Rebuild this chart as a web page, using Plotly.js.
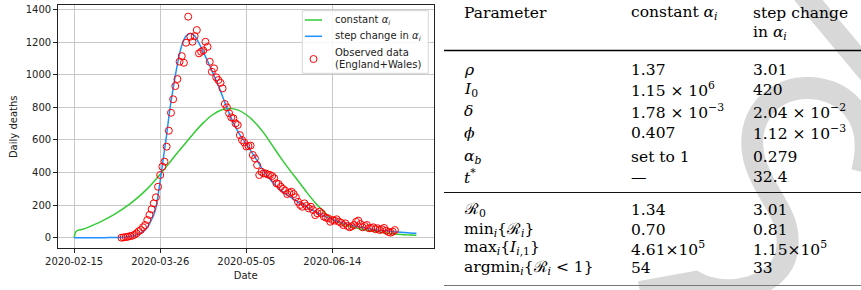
<!DOCTYPE html>
<html>
<head>
<meta charset="utf-8">
<script src="https://cdn.plot.ly/plotly-3.0.1.min.js"></script>
<style>html,body{margin:0;padding:0;background:#fff;overflow:hidden;width:861px;height:290px;}#chart{width:861px;height:290px;}</style>
</head>
<body>
<div id="chart"></div>
<script>
// ---------------- data ----------------
const greenDates = ['2020-02-15','2020-02-16','2020-02-19','2020-02-23','2020-02-27','2020-03-02','2020-03-06','2020-03-10','2020-03-14','2020-03-18','2020-03-22','2020-03-26','2020-03-30','2020-04-03','2020-04-07','2020-04-11','2020-04-15','2020-04-19','2020-04-23','2020-04-27','2020-05-01','2020-05-05','2020-05-09','2020-05-13','2020-05-17','2020-05-21','2020-05-25','2020-05-29','2020-06-02','2020-06-06','2020-06-10','2020-06-14','2020-06-18','2020-06-22','2020-06-26','2020-06-30','2020-07-04','2020-07-08','2020-07-12','2020-07-16','2020-07-20','2020-07-23'];
const greenValues = [0,40,52,73,96,123,154,189,229,275,328,390,455,522,585,648,705,752,783,794,785,755,708,645,568,490,418,350,280,215,160,112,88,70,57,46,38,31,25,20,17,15];

const blueDates = ['2020-02-15','2020-02-19','2020-02-23','2020-02-27','2020-03-02','2020-03-06','2020-03-10','2020-03-12','2020-03-14','2020-03-16','2020-03-18','2020-03-20','2020-03-22','2020-03-23','2020-03-24','2020-03-25','2020-03-26','2020-03-27','2020-03-28','2020-03-29','2020-03-30','2020-03-31','2020-04-01','2020-04-02','2020-04-03','2020-04-04','2020-04-05','2020-04-06','2020-04-07','2020-04-08','2020-04-09','2020-04-10','2020-04-11','2020-04-13','2020-04-15','2020-04-17','2020-04-19','2020-04-21','2020-04-23','2020-04-25','2020-04-27','2020-04-29','2020-05-01','2020-05-03','2020-05-05','2020-05-07','2020-05-09','2020-05-11','2020-05-13','2020-05-15','2020-05-17','2020-05-21','2020-05-25','2020-05-29','2020-06-02','2020-06-06','2020-06-10','2020-06-14','2020-06-18','2020-06-22','2020-06-26','2020-06-30','2020-07-04','2020-07-08','2020-07-12','2020-07-16','2020-07-20','2020-07-23'];
const blueValues = [0,0,0,0,1,2,5,8,13,22,37,62,112,140,185,262,350,445,540,635,740,835,915,995,1065,1130,1180,1215,1238,1250,1254,1250,1240,1195,1140,1085,1025,965,900,830,765,705,655,612,575,535,495,452,412,375,342,292,254,218,188,160,134,112,94,79,67,57,49,42,37,33,29,27];

const observedStart = '2020-03-08'; // daily observations
const observedValues = [0,2,4,6,10,12,18,27,40,47,64,78,109,140,175,211,248,313,385,436,467,559,657,767,850,931,974,1081,1115,1074,1197,1357,1234,1203,1238,1275,1132,1142,1150,1203,1172,1080,1019,1040,985,968,951,917,821,800,764,739,733,702,692,630,600,585,560,563,566,508,487,446,385,405,395,395,388,385,379,365,334,330,313,300,290,268,276,282,268,248,221,201,190,211,195,180,190,170,139,150,160,150,130,123,119,98,109,105,113,98,92,78,88,72,64,70,78,98,105,84,64,72,78,58,60,64,52,58,47,52,60,43,35,31,37,47];

const xTickValues = ['2020-02-15','2020-03-26','2020-05-05','2020-06-14'];
const yTickValues = [0,200,400,600,800,1000,1200,1400];

const legendLabels = ['constant <i>α<sub>i</sub></i>','step change in <i>α<sub>i</sub></i>','Observed data','(England+Wales)'];

const tableHeader = ['Parameter','constant <i>α<sub>i</sub></i>','step change','in <i>α<sub>i</sub></i>'];
const tableParams = ['<i>ρ</i>','<i>I</i><sub>0</sub>','<i>δ</i>','<i>ϕ</i>','<i>α<sub>b</sub></i>','<i>t</i><sup>*</sup>'];
const tableConst = ['1.37','1.15 × 10<sup>6</sup>','1.78 × 10<sup>−3</sup>','0.407','set to 1','—'];
const tableStep = ['3.01','420','2.04 × 10<sup>−2</sup>','1.12 × 10<sup>−3</sup>','0.279','32.4'];
const tableDerived = ['ℛ<sub>0</sub>','min<sub><i>i</i></sub>{ℛ<sub><i>i</i></sub>}','max<sub><i>i</i></sub>{<i>I</i><sub><i>i</i>,1</sub>}','argmin<sub><i>i</i></sub>{ℛ<sub><i>i</i></sub> &lt; 1}'];
const derivedConst = ['1.34','0.70','4.61×10<sup>5</sup>','54'];
const derivedStep = ['3.01','0.81','1.15×10<sup>5</sup>','33'];

// ---------------- helpers ----------------
const W = 861, H = 290;
const px = x => x / W;
const py = y => 1 - y / H;
function addDays(d, n) {
  const t = new Date(d + 'T00:00:00Z');
  t.setUTCDate(t.getUTCDate() + n);
  return t.toISOString().slice(0, 10);
}
const observedDates = observedValues.map((_, i) => addDays(observedStart, i));

const traces = [
  {x: greenDates, y: greenValues, type: 'scatter', mode: 'lines', name: 'constant',
   line: {color: '#32cd32', width: 1.5, shape: 'spline', smoothing: 0.8}, showlegend: false, hoverinfo: 'skip'},
  {x: blueDates, y: blueValues, type: 'scatter', mode: 'lines', name: 'step',
   line: {color: '#1e90ff', width: 1.5, shape: 'spline', smoothing: 0.8}, showlegend: false, hoverinfo: 'skip'},
  {x: observedDates, y: observedValues, type: 'scatter', mode: 'markers', name: 'observed',
   marker: {symbol: 'circle-open', size: 7, color: '#ff0000', line: {width: 1, color: '#ff0000'}}, showlegend: false, hoverinfo: 'skip'}
];

const tickFont = {family: 'DejaVu Sans, sans-serif', size: 10, color: '#222'};
const serif = {family: 'DejaVu Serif, serif', size: 15.5, color: '#000'};

const shapes = [];
const annotations = [];

// watermark (light grey strokes; first in the shape list so rules and text sit on top)
const wm = '#d8d8d8';
function pathPx(cmds) {
  return cmds.map(c => c[0] + ' ' + c.slice(1).map((v, i) => (i % 2 === 0 ? px(v) : py(v))).join(' ')).join(' ');
}
shapes.push({type: 'path', xref: 'paper', yref: 'paper', layer: 'above',
  path: pathPx([['M', 800, -10], ['L', 875, 80]]), line: {color: wm, width: 22}});
shapes.push({type: 'path', xref: 'paper', yref: 'paper', layer: 'above',
  path: pathPx([['M', 862, 172], ['C', 878, 112, 838, 86, 805, 88], ['C', 765, 90, 743, 125, 756, 165],
                ['C', 768, 200, 792, 215, 787, 250], ['C', 782, 288, 725, 300, 695, 282], ['L', 640, 292]]),
  line: {color: wm, width: 22}});

// manual legend
shapes.push({type: 'rect', xref: 'paper', yref: 'paper', layer: 'above',
  x0: px(302.3), x1: px(428.3), y0: py(73.3), y1: py(10.7),
  line: {color: '#d6d6d6', width: 1}, fillcolor: 'rgba(255,255,255,0.85)'});
shapes.push({type: 'line', xref: 'paper', yref: 'paper', layer: 'above',
  x0: px(305), x1: px(322), y0: py(20), y1: py(20), line: {color: '#32cd32', width: 1.5}});
shapes.push({type: 'line', xref: 'paper', yref: 'paper', layer: 'above',
  x0: px(305), x1: px(322), y0: py(36.3), y1: py(36.3), line: {color: '#1e90ff', width: 1.5}});
shapes.push({type: 'circle', xref: 'paper', yref: 'paper', layer: 'above',
  x0: px(313.5 - 3.5), x1: px(313.5 + 3.5), y0: py(59 + 3.5), y1: py(59 - 3.5), line: {color: '#ff0000', width: 1}});
const legY = [20, 36.3, 52.7, 64.2];
legendLabels.forEach((t, i) => annotations.push({xref: 'paper', yref: 'paper', x: px(333), y: py(legY[i]),
  xanchor: 'left', yanchor: 'middle', showarrow: false, text: t, font: tickFont}));

// table
const c1 = 463, c2 = 630, c3 = 752;
function cell(x, y, t) {
  annotations.push({xref: 'paper', yref: 'paper', x: px(x), y: py(y), xanchor: 'left', yanchor: 'middle',
    showarrow: false, text: t, font: serif, borderpad: 0});
}
cell(c1, 13, tableHeader[0]);
cell(c2, 13, tableHeader[1]);
cell(c3, 13, tableHeader[2]);
cell(c3, 33, tableHeader[3]);
const rowY = [70, 90, 111.5, 133, 156.7, 176.7];
tableParams.forEach((t, i) => { cell(c1, rowY[i], t); cell(c2, rowY[i], tableConst[i]); cell(c3, rowY[i], tableStep[i]); });
const rowY2 = [210, 229.5, 248, 267.5];
tableDerived.forEach((t, i) => { cell(c1, rowY2[i], t); cell(c2, rowY2[i], derivedConst[i]); cell(c3, rowY2[i], derivedStep[i]); });
shapes.push({type: 'line', xref: 'paper', yref: 'paper', layer: 'above', x0: px(444), x1: 1, y0: py(50.5), y1: py(50.5), line: {color: '#000', width: 1.5}});
shapes.push({type: 'line', xref: 'paper', yref: 'paper', layer: 'above', x0: px(444), x1: 1, y0: py(192.5), y1: py(192.5), line: {color: '#111', width: 1.2}});
shapes.push({type: 'line', xref: 'paper', yref: 'paper', layer: 'above', x0: px(444), x1: 1, y0: py(285.5), y1: py(285.5), line: {color: '#777', width: 1}});

const layout = {
  width: W, height: H,
  margin: {l: 0, r: 0, t: 0, b: 0},
  paper_bgcolor: '#fff', plot_bgcolor: '#fff',
  showlegend: false,
  xaxis: {
    type: 'date', domain: [px(57.7), px(433.7)],
    range: ['2020-02-07 09:00', '2020-07-31 01:00'],
    tickvals: xTickValues, tickformat: '%Y-%m-%d',
    showgrid: true, gridcolor: '#c8c8c8', gridwidth: 1,
    showline: true, mirror: true, linecolor: '#222', linewidth: 1,
    ticks: 'outside', ticklen: 3.5, tickcolor: '#222', tickfont: tickFont,
    zeroline: false, automargin: false,
    title: {text: 'Date', font: tickFont, standoff: 6}
  },
  yaxis: {
    domain: [1 - 248.3 / H, 1 - 5.3 / H],
    range: [-65, 1427], tickvals: yTickValues,
    showgrid: true, gridcolor: '#c8c8c8', gridwidth: 1,
    showline: true, mirror: true, linecolor: '#222', linewidth: 1,
    ticks: 'outside', ticklen: 3.5, tickcolor: '#222', tickfont: tickFont,
    zeroline: false, automargin: false,
    title: {text: 'Daily deaths', font: tickFont, standoff: 6}
  },
  shapes: shapes,
  annotations: annotations
};

Plotly.newPlot('chart', traces, layout, {staticPlot: true, displayModeBar: false});
</script>
</body>
</html>
